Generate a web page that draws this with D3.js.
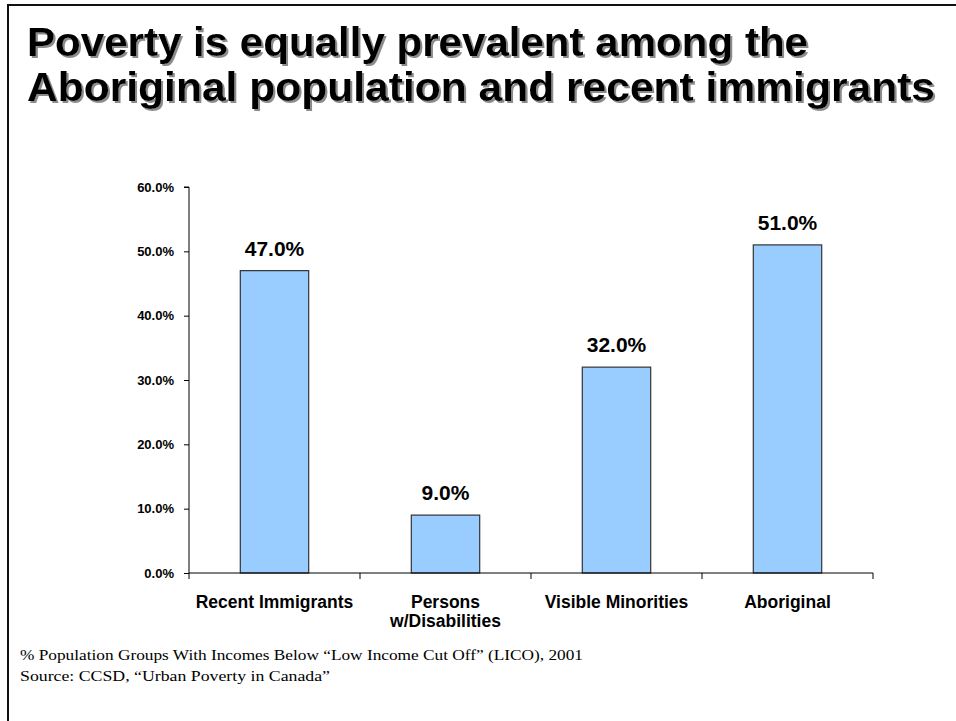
<!DOCTYPE html>
<html>
<head>
<meta charset="utf-8">
<script src="https://cdn.jsdelivr.net/npm/d3@7"></script>
<style>
  html, body { margin: 0; padding: 0; background: #fff; }
  svg { display: block; }
</style>
</head>
<body>
<svg id="chart" width="956" height="721"></svg>
<script>
// Share of each population group below the Low Income Cut Off, 2001
const categories = ["Recent Immigrants", "Persons\nw/Disabilities", "Visible Minorities", "Aboriginal"];
const values = [47.0, 9.0, 32.0, 51.0];
const yTicks = [0, 10, 20, 30, 40, 50, 60];
const titleLines = ["Poverty is equally prevalent among the", "Aboriginal population and recent immigrants"];
const notes = ["% Population Groups With Incomes Below \u201cLow Income Cut Off\u201d (LICO), 2001",
               "Source: CCSD, \u201cUrban Poverty in Canada\u201d"];

const svg = d3.select("#chart");
const W = 956, H = 721;
const SANS = "Arial, 'Liberation Sans', sans-serif";

// soft grey shadow for the headline
const defs = svg.append("defs");
defs.append("filter").attr("id", "shadow")
  .attr("x", "-5%").attr("y", "-20%").attr("width", "110%").attr("height", "150%")
  .append("feDropShadow")
  .attr("dx", 2).attr("dy", 2).attr("stdDeviation", 0.6)
  .attr("flood-color", "#8c8c8c").attr("flood-opacity", 1);

// slide frame (top and left edges)
svg.append("path")
  .attr("d", `M8,${H} V5 H${W}`)
  .attr("fill", "none").attr("stroke", "#111").attr("stroke-width", 2);

// headline
const titleWidths = [781, 908];
svg.append("g").attr("font-family", SANS).attr("font-weight", "bold").attr("font-size", 40)
  .attr("filter", "url(#shadow)")
  .selectAll("text").data(titleLines).join("text")
  .attr("x", 27).attr("y", (d, i) => 56 + i * 45)
  .attr("textLength", (d, i) => titleWidths[i]).attr("lengthAdjust", "spacingAndGlyphs")
  .attr("fill", "#000").text(d => d);

const plot = { left: 189, right: 873, top: 187, bottom: 573 };
const x = d3.scaleBand().domain(categories).range([plot.left, plot.right]);
const y = d3.scaleLinear().domain([0, 60]).range([plot.bottom, plot.top]);
const barW = x.bandwidth() * 0.4;
const cx = d => x(d) + x.bandwidth() / 2;

// bars
svg.append("g").selectAll("rect").data(values).join("rect")
  .attr("x", (d, i) => cx(categories[i]) - barW / 2)
  .attr("width", barW)
  .attr("y", d => y(d))
  .attr("height", d => y(0) - y(d))
  .attr("fill", "#99ccff")
  .attr("stroke", "#333").attr("stroke-width", 1.2);

// value labels
svg.append("g").selectAll("text").data(values).join("text")
  .attr("x", (d, i) => cx(categories[i]))
  .attr("y", d => y(d) - 15)
  .attr("text-anchor", "middle")
  .attr("font-family", SANS).attr("font-weight", "bold").attr("font-size", 21)
  .text(d => d.toFixed(1) + "%");

// y axis
const yAxis = d3.axisLeft(y).tickValues(yTicks).tickSize(5).tickPadding(10)
  .tickFormat(d => d.toFixed(1) + "%");
const gy = svg.append("g").attr("transform", `translate(${plot.left},0)`).call(yAxis);
gy.select(".domain").attr("stroke", "#000").attr("d", `M-5,${plot.top}H0V${plot.bottom}`);
gy.selectAll(".tick line").attr("stroke", "#000");
gy.selectAll(".tick text").attr("font-family", SANS)
  .attr("font-weight", "bold").attr("font-size", 13).attr("fill", "#000");

// x axis with ticks between categories
const gx = svg.append("g").attr("transform", `translate(0,${plot.bottom})`);
gx.append("line").attr("x1", plot.left).attr("x2", plot.right).attr("stroke", "#000");
const bounds = categories.map(c => x(c)).concat([plot.right]);
gx.selectAll("line.tk").data(bounds).join("line").attr("class", "tk")
  .attr("x1", d => d).attr("x2", d => d).attr("y1", 0).attr("y2", 6).attr("stroke", "#000");
gx.selectAll("text").data(categories).join("text")
  .attr("x", d => cx(d))
  .attr("y", 35)
  .attr("text-anchor", "middle")
  .attr("font-family", SANS).attr("font-weight", "bold").attr("font-size", 17.5)
  .each(function(d) {
    d.split("\n").forEach((ln, i) => {
      d3.select(this).append("tspan").attr("x", cx(d))
        .attr("dy", i === 0 ? 0 : 19).text(ln);
    });
  });

// footnotes
const noteWidths = [563, 310];
svg.append("g").selectAll("text").data(notes).join("text")
  .attr("x", 20).attr("y", (d, i) => 660 + i * 21)
  .attr("font-family", "'Liberation Serif', 'DejaVu Serif', serif")
  .attr("font-size", 15).attr("fill", "#000")
  .attr("textLength", (d, i) => noteWidths[i]).attr("lengthAdjust", "spacingAndGlyphs")
  .text(d => d);
</script>
</body>
</html>
